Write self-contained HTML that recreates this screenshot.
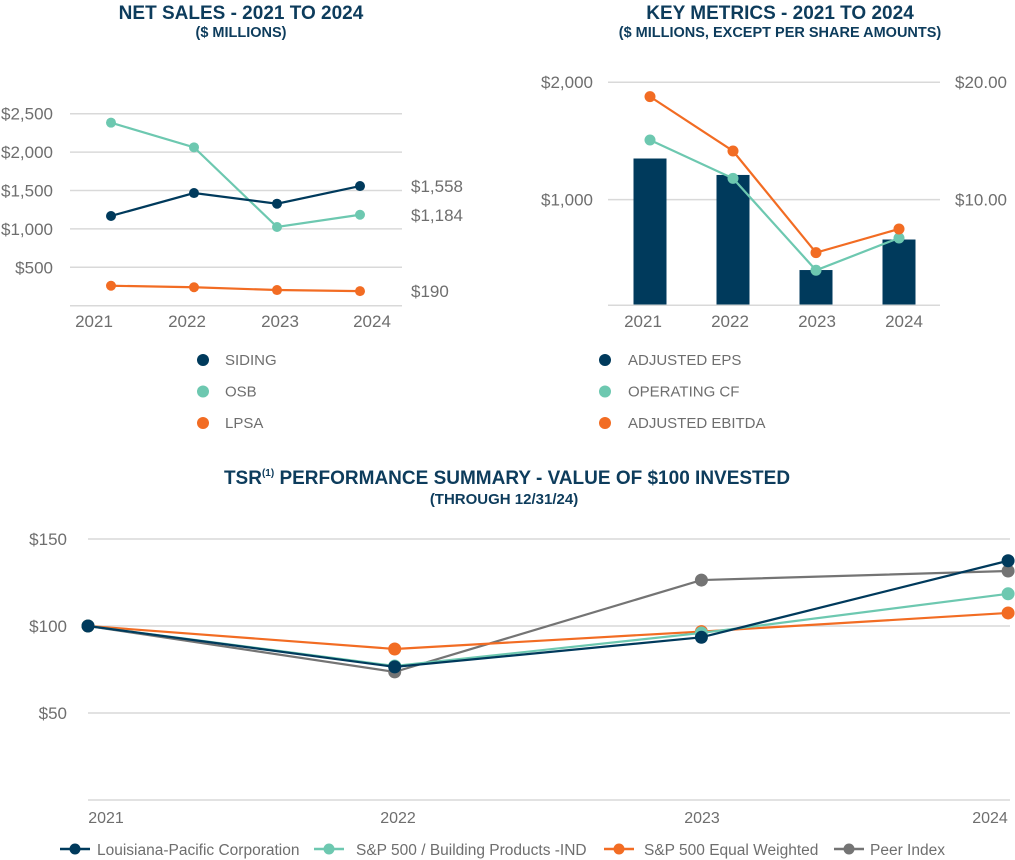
<!DOCTYPE html>
<html><head><meta charset="utf-8"><style>
html,body{margin:0;padding:0;background:#fff;}
svg{display:block;font-family:"Liberation Sans",sans-serif;}
</style></head><body>
<svg id="root" width="1015" height="860" viewBox="0 0 1015 860">
<g id="titles">
<text x="241" y="19" text-anchor="middle" font-size="19" font-weight="bold" fill="#0d3c5c">NET SALES - 2021 TO 2024</text>
<text x="241" y="37" text-anchor="middle" font-size="14.5" font-weight="bold" fill="#0d3c5c">($ MILLIONS)</text>
<text x="780" y="19" text-anchor="middle" font-size="19" font-weight="bold" fill="#0d3c5c">KEY METRICS - 2021 TO 2024</text>
<text x="780" y="37" text-anchor="middle" font-size="14.5" font-weight="bold" fill="#0d3c5c">($ MILLIONS, EXCEPT PER SHARE AMOUNTS)</text>
<text x="507" y="484" text-anchor="middle" font-size="19" font-weight="bold" fill="#0d3c5c">TSR<tspan font-size="10" dy="-8">(1)</tspan><tspan dy="8"> PERFORMANCE SUMMARY - VALUE OF $100 INVESTED</tspan></text>
<text x="504" y="504" text-anchor="middle" font-size="15" font-weight="bold" fill="#0d3c5c">(THROUGH 12/31/24)</text>
</g>
<g id="c1"></g><g id="c2"></g><g id="c3"></g>
</svg>
<script>
// Net sales data
const nsYears = ["2021","2022","2023","2024"];
const nsSiding = [1168, 1467, 1328, 1558];
const nsOSB = [2383, 2062, 1025, 1184];
const nsLPSA = [260, 240, 204, 190];
const nsTicks = [500, 1000, 1500, 2000, 2500];
const nsEndLabels = ["$1,558", "$1,184", "$190"];
// Key metrics data
const kmYears = ["2021","2022","2023","2024"];
const kmEPS = [13.5, 12.1, 4.0, 6.6];
const kmOCF = [1508, 1181, 398, 673];
const kmEBITDA = [1877, 1414, 548, 750];
const kmTicksL = [1000, 2000];
const kmTicksR = [10, 20];
// TSR data
const tsrYears = ["2021","2022","2023","2024"];
const tsrLP = [100, 76.5, 93.5, 137.5];
const tsrBldg = [100, 77, 96, 118.5];
const tsrEqual = [100, 86.8, 96.8, 107.5];
const tsrPeer = [100, 73.6, 126.4, 131.6];
const tsrTicks = [50, 100, 150];

const NS="http://www.w3.org/2000/svg";
const C={navy:"#003a5c",teal:"#6dc8b0",orange:"#f26c23",gray:"#747474",grid:"#d9d9d9",txt:"#6e6e6e"};
function mk(parent,tag,attrs,text){const e=document.createElementNS(NS,tag);for(const k in attrs)e.setAttribute(k,attrs[k]);if(text!==undefined)e.textContent=text;parent.appendChild(e);return e;}
const fmt=v=>"$"+v.toLocaleString("en-US");

// Chart 1
(function(){
 const g=document.getElementById("c1");
 const y=v=>305.7-v*(38.4/500);
 const x=i=>111+i*83;
 let l=mk(g,"line",{x1:70,x2:402,y1:305.7,y2:305.7,stroke:C.grid,"stroke-width":1.5});
 
 
 nsTicks.forEach(t=>{
  let gl=mk(g,"line",{x1:70,x2:402,y1:y(t),y2:y(t),stroke:C.grid,"stroke-width":1.5});
  
  
  let tl=mk(g,"text",{x:53,y:y(t)+6,"text-anchor":"end","font-size":17,fill:C.txt},fmt(t));
  
  
 });
 nsYears.forEach((yr,i)=>{
  let t=mk(g,"text",{x:[94,187,280,372][i],y:327,"text-anchor":"middle","font-size":17,fill:C.txt},yr);
  
  
 });
 [[nsOSB,C.teal,"osb"],[nsSiding,C.navy,"siding"],[nsLPSA,C.orange,"lpsa"]].forEach(([d,c,n])=>{
  let p=mk(g,"polyline",{points:d.map((v,i)=>x(i)+","+y(v)).join(" "),fill:"none",stroke:c,"stroke-width":2.2});
  
  
  d.forEach((v,i)=>{let ci=mk(g,"circle",{cx:x(i),cy:y(v),r:5,fill:c});
   
   });
 });
 [[nsSiding[3],nsEndLabels[0]],[nsOSB[3],nsEndLabels[1]],[nsLPSA[3],nsEndLabels[2]]].forEach(([v,s])=>{
  let t=mk(g,"text",{x:411,y:y(v)+6,"font-size":17,fill:C.txt},s);
  
  
 });
 [["SIDING",C.navy],["OSB",C.teal],["LPSA",C.orange]].forEach(([s,c],i)=>{
  let ci=mk(g,"circle",{cx:203,cy:360+i*31.5,r:6,fill:c});
  
  
  let t=mk(g,"text",{x:225,y:365+i*31.5,"font-size":15,fill:C.txt},s);
  
  
 });
})();

// Chart 2
(function(){
 const g=document.getElementById("c2");
 const yl=v=>317-v*(117.4/1000);
 const yr=v=>317-v*(117.4/10);
 const x=i=>650+i*83;
 kmTicksL.forEach((t,i)=>{
  let gl=mk(g,"line",{x1:608,x2:940,y1:yl(t),y2:yl(t),stroke:C.grid,"stroke-width":1.5});
  
  
  let tl=mk(g,"text",{x:593,y:yl(t)+6,"text-anchor":"end","font-size":17,fill:C.txt},fmt(t));
  
  
  let tr=mk(g,"text",{x:955,y:yr(kmTicksR[i])+6,"font-size":17,fill:C.txt},"$"+kmTicksR[i].toFixed(2));
  
  
 });
 kmEPS.forEach((v,i)=>{
  let r=mk(g,"rect",{x:x(i)-16.5,y:yr(v),width:33,height:305.3-yr(v),fill:C.navy});
  
  
 });
 let bl=mk(g,"line",{x1:608,x2:940,y1:305.3,y2:305.3,stroke:C.grid,"stroke-width":1.5});
 
 
 kmYears.forEach((yrr,i)=>{
  let t=mk(g,"text",{x:[643,730,817,904][i],y:327,"text-anchor":"middle","font-size":17,fill:C.txt},yrr);
  
  
 });
 [[kmOCF,C.teal,"operating-cf"],[kmEBITDA,C.orange,"adjusted-ebitda"]].forEach(([d,c,n])=>{
  let p=mk(g,"polyline",{points:d.map((v,i)=>x(i)+","+yl(v)).join(" "),fill:"none",stroke:c,"stroke-width":2.2});
  
  
  d.forEach((v,i)=>{let ci=mk(g,"circle",{cx:x(i),cy:yl(v),r:5.5,fill:c});
   
   });
 });
 [["ADJUSTED EPS",C.navy],["OPERATING CF",C.teal],["ADJUSTED EBITDA",C.orange]].forEach(([s,c],i)=>{
  let ci=mk(g,"circle",{cx:605,cy:360+i*31.5,r:6,fill:c});
  
  
  let t=mk(g,"text",{x:628,y:365+i*31.5,"font-size":15,fill:C.txt},s);
  
  
 });
})();

// Chart 3
(function(){
 const g=document.getElementById("c3");
 const y=v=>800-v*(87/50);
 const x=i=>88+i*306.7;
 let bl=mk(g,"line",{x1:88,x2:1010,y1:800,y2:800,stroke:C.grid,"stroke-width":1.5});
 
 
 tsrTicks.forEach(t=>{
  let gl=mk(g,"line",{x1:88,x2:1010,y1:y(t),y2:y(t),stroke:C.grid,"stroke-width":1.5});
  
  
  let tl=mk(g,"text",{x:67,y:y(t)+6,"text-anchor":"end","font-size":17,fill:C.txt},"$"+t);
  
  
 });
 tsrYears.forEach((yrr,i)=>{
  let t=mk(g,"text",{x:[106,398,702,990][i],y:823,"text-anchor":"middle","font-size":16,fill:C.txt},yrr);
  
  
 });
 const series=[[tsrPeer,C.gray,"peer-index"],[tsrEqual,C.orange,"sp500-equal-weighted"],[tsrBldg,C.teal,"sp500-building-products"],[tsrLP,C.navy,"louisiana-pacific"]];
 series.forEach(([d,c,n])=>{
  let p=mk(g,"polyline",{points:d.map((v,i)=>x(i)+","+y(v)).join(" "),fill:"none",stroke:c,"stroke-width":2.2});
  
  
  d.forEach((v,i)=>{let ci=mk(g,"circle",{cx:x(i),cy:y(v),r:6.5,fill:c});
   
   });
 });
 [["Louisiana-Pacific Corporation",C.navy,60,37],["S&P 500 / Building Products -IND",C.teal,314,42],["S&P 500 Equal Weighted",C.orange,604,40],["Peer Index",C.gray,834,36]].forEach(([s,c,x0,off])=>{
  let ln=mk(g,"line",{x1:x0,x2:x0+30,y1:849,y2:849,stroke:c,"stroke-width":2.5});
  
  
  let ci=mk(g,"circle",{cx:x0+15,cy:849,r:5.5,fill:c});
  
  
  let t=mk(g,"text",{x:x0+off,y:855,"font-size":15.5,fill:C.txt},s);
  
  
 });
})();
</script>
</body></html>
